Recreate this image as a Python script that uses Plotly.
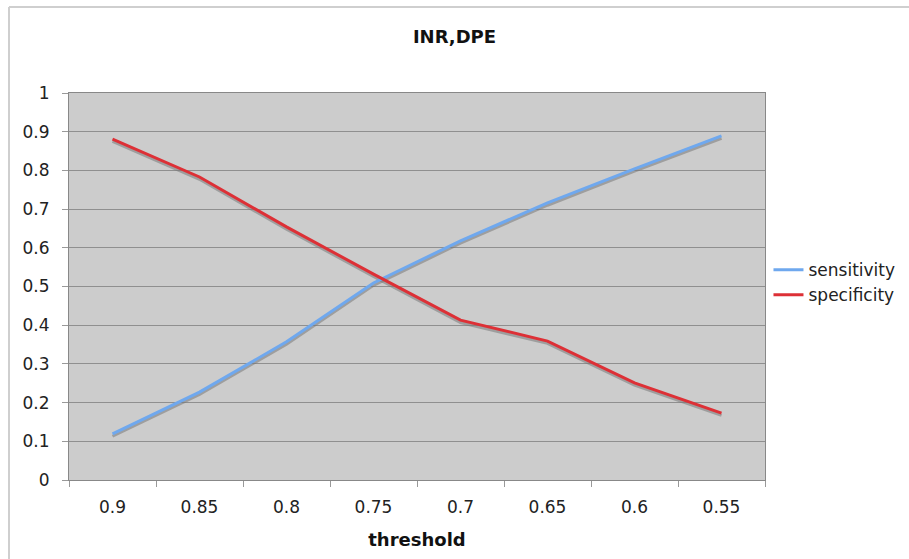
import plotly.graph_objects as go

thresholds = ["0.9", "0.85", "0.8", "0.75", "0.7", "0.65", "0.6", "0.55"]
sensitivity = [0.119, 0.227, 0.357, 0.509, 0.618, 0.716, 0.804, 0.889]
specificity = [0.881, 0.783, 0.654, 0.532, 0.413, 0.359, 0.251, 0.173]
y_ticks = [0, 0.1, 0.2, 0.3, 0.4, 0.5, 0.6, 0.7, 0.8, 0.9, 1]
y_tick_labels = ["0", "0.1", "0.2", "0.3", "0.4", "0.5", "0.6", "0.7", "0.8", "0.9", "1"]

FONT = "DejaVu Sans"
TICK = 17
shadow_off = 0.006

fig = go.Figure()
for ys in (sensitivity, specificity):
    fig.add_trace(go.Scatter(x=thresholds, y=[v - shadow_off for v in ys], mode="lines",
                             line=dict(color="rgba(120,120,120,0.55)", width=3),
                             showlegend=False, hoverinfo="skip"))
fig.add_trace(go.Scatter(x=thresholds, y=sensitivity, mode="lines", name="sensitivity",
                         line=dict(color="#6fa8ee", width=3)))
fig.add_trace(go.Scatter(x=thresholds, y=specificity, mode="lines", name="specificity",
                         line=dict(color="#dd3036", width=3)))

fig.update_layout(
    width=909, height=559,
    margin=dict(l=69, r=144, t=93, b=79, autoexpand=False),
    paper_bgcolor="white",
    plot_bgcolor="#cccccc",
    font=dict(family=FONT, size=TICK, color="#222222"),
    title=dict(text="<b>INR,DPE</b>", x=0.5, xref="container", xanchor="center",
               y=1 - 37 / 559, yref="container", yanchor="middle",
               font=dict(family=FONT, size=18, color="#111111")),
    showlegend=True,
    legend=dict(x=1.005, xanchor="left", y=0.51, yanchor="middle",
                font=dict(family=FONT, size=TICK, color="#222222"),
                bgcolor="rgba(0,0,0,0)", tracegroupgap=0),
    xaxis=dict(type="category", tickson="boundaries", ticks="outside", ticklen=6,
               range=[-0.5, 7.5], automargin=False,
               tickcolor="#999999", showgrid=False, showline=True, linecolor="#888888",
               mirror=True, linewidth=1, ticklabelstandoff=12,
               tickfont=dict(family=FONT, size=TICK, color="#222222"),
               title=dict(text="<b>threshold</b>", standoff=16,
                          font=dict(family=FONT, size=18, color="#111111"))),
    yaxis=dict(range=[0, 1], tickvals=y_ticks, ticktext=y_tick_labels, automargin=False,
               ticks="outside", ticklen=6, ticklabelstandoff=9,
               tickcolor="#999999", showgrid=True, gridcolor="#8f8f8f", gridwidth=1,
               showline=True, linecolor="#888888", mirror=True, zeroline=False,
               tickfont=dict(family=FONT, size=TICK, color="#222222")),
    shapes=[
        dict(type="line", xref="paper", yref="paper",
             x0=(9 - 69) / 696, x1=(9 - 69) / 696, y0=(480 - 7) / 387, y1=-79 / 387 - 0.01,
             line=dict(color="#cfcfcf", width=2)),
        dict(type="line", xref="paper", yref="paper",
             x0=(9 - 69) / 696, x1=(909 - 69) / 696 + 0.01, y0=(480 - 7) / 387, y1=(480 - 7) / 387,
             line=dict(color="#cfcfcf", width=2)),
    ],
)

fig.write_html("out.html")
